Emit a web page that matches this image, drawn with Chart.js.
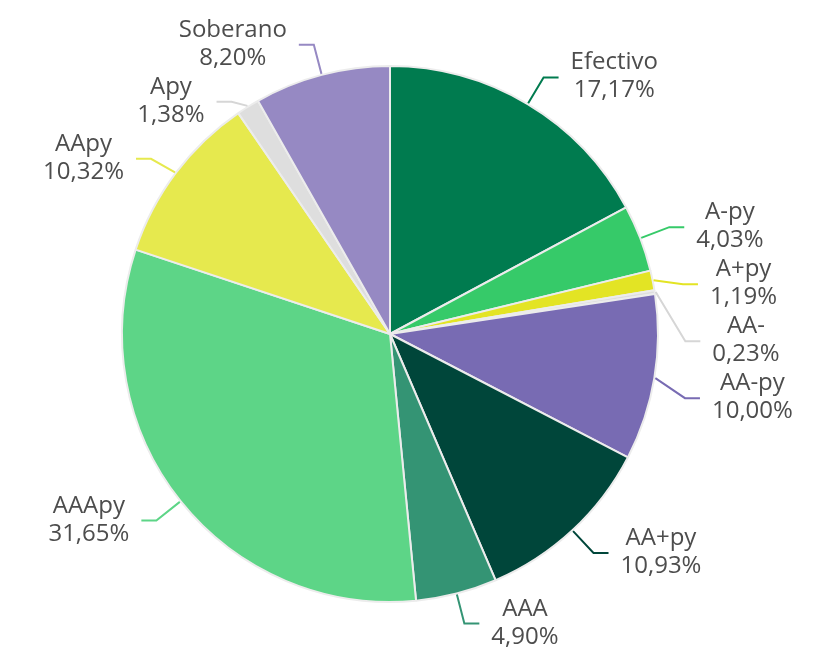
<!DOCTYPE html>
<html>
<head>
<meta charset="utf-8">
<script src="https://cdn.jsdelivr.net/npm/chart.js@4"></script>
<style>
  html, body { margin: 0; padding: 0; background: #fff; }
  canvas { display: block; }
</style>
</head>
<body>
<canvas id="chart" width="825" height="654"></canvas>
<script>
const categories = ['Efectivo', 'A-py', 'A+py', 'AA-', 'AA-py', 'AA+py', 'AAA', 'AAApy', 'AApy', 'Apy', 'Soberano'];
const shares = [17.17, 4.03, 1.19, 0.23, 10.00, 10.93, 4.90, 31.65, 10.32, 1.38, 8.20];
const sliceColors = ['#007b4f', '#36ca69', '#e3e424', '#dedede', '#786bb3', '#00463a', '#349474', '#5dd587', '#e6e94e', '#dedede', '#9689c3'];

const fmt = v => v.toFixed(2).replace('.', ',') + '%';

// labels outside the pie with elbow leader lines
const leaderLabels = {
    id: 'leaderLabels',
    afterDatasetsDraw(chart) {
        const ctx = chart.ctx;
        const meta = chart.getDatasetMeta(0);
        const items = meta.data.map((arc, i) => {
            const p = arc.getProps(['x', 'y', 'startAngle', 'endAngle', 'outerRadius'], true);
            const a = (p.startAngle + p.endAngle) / 2;
            const r0 = p.outerRadius + 1;
            const r1 = p.outerRadius + 31;
            return {
                i, right: Math.cos(a) >= 0,
                x0: p.x + Math.cos(a) * r0, y0: p.y + Math.sin(a) * r0,
                x1: p.x + Math.cos(a) * r1, y: p.y + Math.sin(a) * r1
            };
        });

        [true, false].forEach(side => {
            const g = items.filter(d => d.right === side).sort((a, b) => a.y - b.y);
            for (let k = 1; k < g.length; k++) {
                if (g[k].y < g[k - 1].y + 57) g[k].y = g[k - 1].y + 57;
            }
        });

        ctx.save();
        ctx.font = '24px "Open Sans"';
        ctx.textAlign = 'center';
        ctx.textBaseline = 'alphabetic';
        items.forEach(d => {
            const dir = d.right ? 1 : -1;
            const x2 = d.x1 + dir * 15;
            const col = sliceColors[d.i];
            ctx.strokeStyle = col === '#dedede' ? '#d6d6d6' : col;
            ctx.lineWidth = 2;
            ctx.beginPath();
            ctx.moveTo(d.x0, d.y0);
            ctx.lineTo(d.x1, d.y);
            ctx.lineTo(x2, d.y);
            ctx.stroke();

            const l1 = categories[d.i], l2 = fmt(shares[d.i]);
            const w = Math.max(ctx.measureText(l1).width, ctx.measureText(l2).width);
            const cx = x2 + dir * (12 + w / 2);
            ctx.fillStyle = '#4d4d4d';
            ctx.fillText(l1, cx, d.y - 8);
            ctx.fillText(l2, cx, d.y + 20);
        });
        ctx.restore();
    }
};

new Chart(document.getElementById('chart'), {
    type: 'pie',
    data: {
        labels: categories,
        datasets: [{
            data: shares,
            backgroundColor: sliceColors,
            borderColor: '#ececec',
            borderWidth: 2
        }]
    },
    options: {
        responsive: false,
        animation: false,
        layout: {
            padding: {top: 65, bottom: 51, left: 121, right: 166}
        },
        plugins: {
            legend: {display: false},
            tooltip: {enabled: false}
        }
    },
    plugins: [leaderLabels]
});
</script>
</body>
</html>
